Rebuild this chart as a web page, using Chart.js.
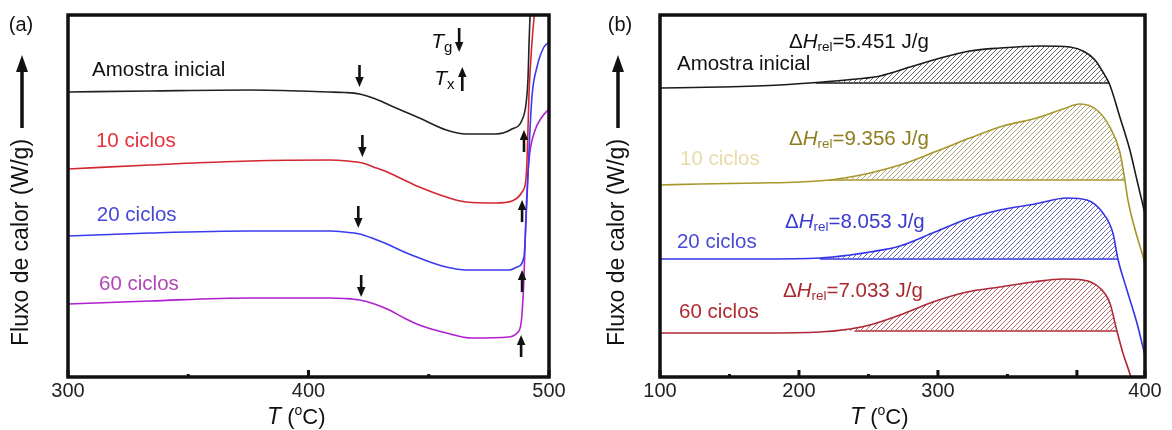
<!DOCTYPE html>
<html>
<head>
<meta charset="utf-8">
<script src="https://cdn.jsdelivr.net/npm/chart.js@4.4.0/dist/chart.umd.min.js"></script>
<style>
  html, body { margin: 0; padding: 0; background: #fff; }
  #wrap { position: relative; width: 1172px; height: 430px; }
  .panel { position: absolute; top: 0; width: 586px; height: 430px; }
  #panel-a { left: 0; }
  #panel-b { left: 586px; }
</style>
</head>
<body>
<div id="wrap">
  <div class="panel" id="panel-a"><canvas id="dsc-a"></canvas></div>
  <div class="panel" id="panel-b"><canvas id="dsc-b"></canvas></div>
</div>
<script>
// ---- (a) DSC heating scans around Tg / Tx, heat flow offset per sample (arb. units)
const sampleNames = ['Amostra inicial', '10 ciclos', '20 ciclos', '60 ciclos'];

const tempInicialA = [300, 334.0, 375.5, 408.7, 414.9, 421.2, 427.4, 433.6, 439.8, 446.1, 457.3, 465.6, 478.0, 484.6, 488.8, 490.5, 491.3, 491.7, 492.1, 492.3];
const fluxInicialA = [28.5, 28.6, 28.7, 28.5, 28.45, 28.3, 27.85, 27.2, 26.55, 25.9, 24.7, 24.3, 24.3, 24.8, 25.7, 27.4, 30.0, 33.4, 36.0, 37.2];
const temp10A = [300, 334.0, 375.5, 408.7, 416.2, 422.4, 428.2, 433.6, 439.8, 446.1, 457.3, 465.6, 478.0, 484.6, 488.8, 490.5, 491.1, 491.7, 492.9, 493.8, 494.2];
const flux10A = [20.8, 21.2, 21.6, 21.7, 21.6, 21.4, 20.9, 20.4, 19.7, 19.0, 18.0, 17.5, 17.4, 17.6, 18.5, 20.0, 23.4, 28.4, 33.4, 36.0, 37.2];
const temp20A = [300, 334.0, 375.5, 408.7, 414.9, 421.2, 427.4, 433.6, 439.8, 446.1, 457.3, 465.6, 483.4, 486.7, 489.6, 490.5, 491.7, 492.9, 495.0, 497.9, 499.6];
const flux20A = [14.1, 14.4, 14.6, 14.6, 14.5, 14.3, 13.8, 13.2, 12.5, 11.9, 11.0, 10.7, 10.7, 11.0, 12.0, 16.0, 22.7, 28.0, 31.0, 33.0, 33.4];
const temp60A = [300, 334.0, 375.5, 408.7, 414.9, 421.2, 427.4, 433.6, 439.8, 446.1, 457.3, 468.0, 483.4, 486.7, 488.4, 489.6, 490.5, 491.7, 493.8, 497.1, 499.6];
const flux60A = [7.3, 7.6, 7.9, 7.9, 7.85, 7.7, 7.3, 6.7, 5.9, 5.2, 4.4, 3.9, 4.0, 4.4, 5.4, 10.0, 16.7, 21.7, 24.4, 26.0, 26.7];

// glass transition (Tg) and crystallisation onset (Tx) markers
const tgTempA = [421.2, 422.4, 420.7, 421.9];
const tgFluxA = [29.0, 22.0, 14.9, 8.0];
const txTempA = [489.6, 488.8, 488.8, 488.4];
const txFluxA = [24.7, 17.7, 10.7, 4.2];

const xTicksA = [300, 350, 400, 450, 500];
const xTickLabelsA = ['300', '', '400', '', '500'];
const xMajorA = [300, 400, 500];

// ---- (b) relaxation enthalpy scans
const tempInicialB = [100, 143.2, 186.3, 217.3, 241.7, 258.3, 279.9, 299.3, 323.0, 344.6, 373.4, 395.0, 405.8, 413.0, 418.7, 423.7, 430.9, 438.1, 443.2, 449.0];
const fluxInicialB = [28.9, 29.0, 29.2, 29.5, 29.8, 30.1, 31.0, 31.8, 32.6, 32.9, 33.1, 33.0, 32.5, 31.7, 30.5, 29.2, 26.0, 22.7, 19.7, 16.3];
const temp10B = [100, 128.8, 171.9, 200.7, 222.3, 236.7, 251.1, 274.8, 299.3, 323.0, 346.8, 371.2, 389.9, 402.2, 414.4, 423.7, 430.9, 434.5, 436.7, 448.9];
const flux10B = [19.2, 19.3, 19.4, 19.5, 19.7, 20.0, 20.4, 21.3, 22.6, 23.9, 25.1, 25.9, 26.8, 27.3, 26.7, 25.0, 22.5, 19.7, 17.7, 11.4];
const temp20B = [100, 171.9, 215.1, 236.7, 251.1, 272.7, 297.8, 323.0, 344.6, 369.8, 392.8, 407.2, 418.7, 425.9, 429.5, 436.0, 443.2, 448.9];
const flux20B = [11.8, 11.8, 11.9, 12.2, 12.5, 13.1, 14.5, 15.9, 16.7, 17.3, 17.9, 17.7, 16.4, 14.4, 11.8, 8.7, 5.4, 2.2];
const temp60B = [100, 171.9, 215.1, 236.7, 251.1, 272.7, 296.4, 320.9, 344.6, 368.3, 389.9, 404.3, 416.5, 423.7, 428.8, 433.1, 438.8, 440.2];
const flux60B = [4.4, 4.4, 4.5, 4.8, 5.2, 6.2, 7.5, 8.5, 9.0, 9.5, 9.8, 9.7, 8.9, 7.4, 4.6, 2.4, 0.0, -0.8];

// integration baseline and limits of the hatched relaxation peak
const dHrelB = ['5.451', '9.356', '8.053', '7.033'];
const baseFluxB = [29.4, 19.7, 11.8, 4.6];
const hatchStartB = [212, 222, 215, 240];
const hatchEndB = [423.5, 434.5, 429.5, 428.8];

const xTicksB = [100, 150, 200, 250, 300, 350, 400, 449];
const xTickLabelsB = ['100', '', '200', '', '300', '', '', '400'];
const xMajorB = [100, 200, 300, 400, 449];

const FONT = '"Liberation Sans", Arial, Helvetica, sans-serif';

const zip = (xs, ys) => xs.map((x, i) => ({ x, y: ys[i] }));

// diagonal hatch used to fill the relaxation peaks
function hatch(color) {
  const c = document.createElement('canvas');
  c.width = 5; c.height = 5;
  const g = c.getContext('2d');
  g.strokeStyle = color;
  g.lineWidth = 1;
  g.beginPath();
  g.moveTo(0, 5); g.lineTo(5, 0);
  g.moveTo(-1, 1); g.lineTo(1, -1);
  g.moveTo(4, 6); g.lineTo(6, 4);
  g.stroke();
  return g.createPattern(c, 'repeat');
}

function drawArrow(ctx, x, tip, dir, len, shaft, headW, headL) {
  const s = dir === 'up' ? 1 : -1;
  const body = len - headL * 0.8;
  ctx.fillRect(x - shaft / 2, dir === 'up' ? tip + headL * 0.8 : tip - len, shaft, body);
  ctx.beginPath();
  ctx.moveTo(x, tip);
  ctx.lineTo(x - headW / 2, tip + s * headL);
  ctx.lineTo(x + headW / 2, tip + s * headL);
  ctx.closePath();
  ctx.fill();
}

function drawRuns(ctx, x, y, runs, color) {
  ctx.textBaseline = 'alphabetic';
  ctx.textAlign = 'left';
  runs.forEach(r => {
    ctx.font = r.font;
    ctx.fillStyle = r.color || color;
    ctx.fillText(r.text, x, y + (r.dy || 0));
    x += ctx.measureText(r.text).width;
  });
}

const plain = (t, size = 20.5) => ({ text: t, font: `${size}px ${FONT}` });
const ital = (t, size = 20.5) => ({ text: t, font: `italic ${size}px ${FONT}` });
const sub = (t, size = 13.5, dy = 3) => ({ text: t, font: `${size}px ${FONT}`, dy });
const dH = v => [plain('Δ'), ital('H'), sub('rel'), plain('=' + v + ' J/g')];

// frame, inner ticks, arrows, labels and axis titles
const dscDecor = {
  id: 'dscDecor',
  afterDatasetsDraw(chart, args, opts) {
    const { ctx, chartArea: a, scales: { x, y } } = chart;
    ctx.save();

    ctx.fillStyle = '#111';
    x.ticks.forEach(t => {
      const px = x.getPixelForValue(t.value);
      const len = opts.majors.includes(t.value) ? 7 : 3;
      ctx.fillRect(px - 1.5, a.bottom - len, 3, len);
    });

    (opts.arrows || []).forEach(ar => {
      ctx.fillStyle = '#111';
      ar.temps.forEach((t, i) => {
        drawArrow(ctx, x.getPixelForValue(t), y.getPixelForValue(ar.levels[i]), ar.dir, 22, 2.6, 8.5, 10);
      });
    });

    (opts.labels || []).forEach(l => {
      drawRuns(ctx, x.getPixelForValue(l.at[0]), y.getPixelForValue(l.at[1]), l.runs, l.color);
    });

    (opts.keys || []).forEach(k => {
      const px = x.getPixelForValue(k.at[0]);
      const py = y.getPixelForValue(k.at[1]);
      drawRuns(ctx, px, py, [ital('T', 21), sub(k.sub, 15, 4)], '#111');
      ctx.fillStyle = '#111';
      const ax = px + 28;
      if (k.dir === 'down') drawArrow(ctx, ax, py + 4, 'down', 24, 2.6, 8.5, 10);
      else drawArrow(ctx, ax, py - 18, 'up', 24, 2.6, 8.5, 10);
    });

    // plot frame
    ctx.lineWidth = 3.5;
    ctx.strokeStyle = '#111';
    ctx.strokeRect(a.left, a.top, a.right - a.left, a.bottom - a.top);

    // panel tag
    ctx.fillStyle = '#111';
    ctx.font = `20px ${FONT}`;
    ctx.textAlign = 'center';
    ctx.textBaseline = 'middle';
    ctx.fillText(opts.tag, opts.tagX, 25);

    // y title with upward arrow
    ctx.save();
    ctx.translate(opts.yTitleX, a.bottom - 31);
    ctx.rotate(-Math.PI / 2);
    ctx.font = `23px ${FONT}`;
    ctx.textAlign = 'left';
    ctx.textBaseline = 'middle';
    ctx.fillText('Fluxo de calor (W/g)', 0, 0);
    ctx.restore();
    drawArrow(ctx, opts.yTitleX, 55, 'up', 73, 3.5, 12, 17);

    // x title
    drawRuns(ctx, a.left + opts.xTitleOffset, 424,
      [ital('T', 23), plain(' (', 22), sub('o', 14, -9), plain('C)', 22)], '#111');

    ctx.restore();
  }
};

function baseOptions(xMin, xMax, ticks, tickLabels, padding, decor) {
  return {
    responsive: true,
    maintainAspectRatio: false,
    animation: false,
    layout: { padding },
    plugins: {
      legend: { display: false },
      tooltip: { enabled: false },
      dscDecor: decor
    },
    elements: { point: { radius: 0 } },
    scales: {
      x: {
        type: 'linear',
        min: xMin,
        max: xMax,
        grid: { display: false },
        border: { display: false },
        afterBuildTicks: scale => { scale.ticks = ticks.map(v => ({ value: v })); },
        afterFit: scale => { scale.height = 53; },
        ticks: {
          autoSkip: false,
          maxRotation: 0,
          padding: -6,
          color: '#222',
          font: { family: FONT, size: 20 },
          callback: value => tickLabels[ticks.indexOf(value)] || ''
        }
      },
      y: { display: false, min: 0, max: 36.2 }
    }
  };
}

const line = (data, color, extra = {}) => Object.assign({
  data,
  borderColor: color,
  borderWidth: 1.6,
  fill: false,
  cubicInterpolationMode: 'monotone'
}, extra);

// ---------- panel (a)
const colorsA = ['#222222', '#d22630', '#3a3af0', '#b020d0'];
const labelColorsA = ['#111111', '#e8303a', '#4646d8', '#b048b8'];
const seriesA = [[tempInicialA, fluxInicialA], [temp10A, flux10A], [temp20A, flux20A], [temp60A, flux60A]];
const labelPosA = [[310.0, 30.1], [311.6, 23.0], [312.0, 15.6], [312.9, 8.7]];

new Chart(document.getElementById('dsc-a'), {
  type: 'line',
  data: {
    datasets: seriesA.map((s, i) => line(zip(s[0], s[1]), colorsA[i], { label: sampleNames[i] }))
  },
  options: baseOptions(300, 500, xTicksA, xTickLabelsA, { left: 68, right: 37, top: 15, bottom: 0 }, {
    tag: '(a)', tagX: 21, yTitleX: 22, xTitleOffset: 199,
    majors: xMajorA,
    arrows: [
      { temps: tgTempA, levels: tgFluxA, dir: 'down' },
      { temps: txTempA, levels: txFluxA, dir: 'up' }
    ],
    keys: [
      { at: [451.0, 32.9], sub: 'g', dir: 'down' },
      { at: [452.3, 29.2], sub: 'x', dir: 'up' }
    ],
    labels: sampleNames.map((n, i) => ({ at: labelPosA[i], runs: [plain(n)], color: labelColorsA[i] }))
  }),
  plugins: [dscDecor]
});

// ---------- panel (b)
const colorsB = ['#1a1a1a', '#a8962a', '#3434e6', '#b02838'];
const hatchColorsB = ['#6a6a6a', '#aaa47c', '#6c6cae', '#b46a6a'];
const ciclosColorsB = ['#111111', '#e8dba8', '#4a4ad8', '#b02a30'];
const dHColorsB = ['#111111', '#8e7d1e', '#3a3ad0', '#a82a30'];
const seriesB = [[tempInicialB, fluxInicialB], [temp10B, flux10B], [temp20B, flux20B], [temp60B, flux60B]];
const namePosB = [[112.2, 30.7], [114.4, 21.2], [112.2, 12.9], [113.7, 5.9]];
const dHPosB = [[192.8, 32.9], [192.8, 23.2], [189.9, 14.9], [188.5, 8.0]];

const datasetsB = [];
seriesB.forEach((s, i) => {
  datasetsB.push(line(zip(s[0], s[1]), colorsB[i], {
    label: sampleNames[i],
    fill: { target: { value: baseFluxB[i] }, above: hatch(hatchColorsB[i]), below: 'rgba(0,0,0,0)' }
  }));
  datasetsB.push(line([{ x: hatchStartB[i], y: baseFluxB[i] }, { x: hatchEndB[i], y: baseFluxB[i] }],
    colorsB[i], { borderWidth: 1.3, cubicInterpolationMode: 'default' }));
});

new Chart(document.getElementById('dsc-b'), {
  type: 'line',
  data: { datasets: datasetsB },
  options: baseOptions(100, 449, xTicksB, xTickLabelsB, { left: 74, right: 27, top: 15, bottom: 0 }, {
    tag: '(b)', tagX: 34, yTitleX: 32, xTitleOffset: 190,
    majors: xMajorB,
    labels: [
      ...sampleNames.map((n, i) => ({ at: namePosB[i], runs: [plain(n)], color: ciclosColorsB[i] })),
      ...dHrelB.map((v, i) => ({ at: dHPosB[i], runs: dH(v), color: dHColorsB[i] }))
    ]
  }),
  plugins: [dscDecor]
});
</script>
</body>
</html>
